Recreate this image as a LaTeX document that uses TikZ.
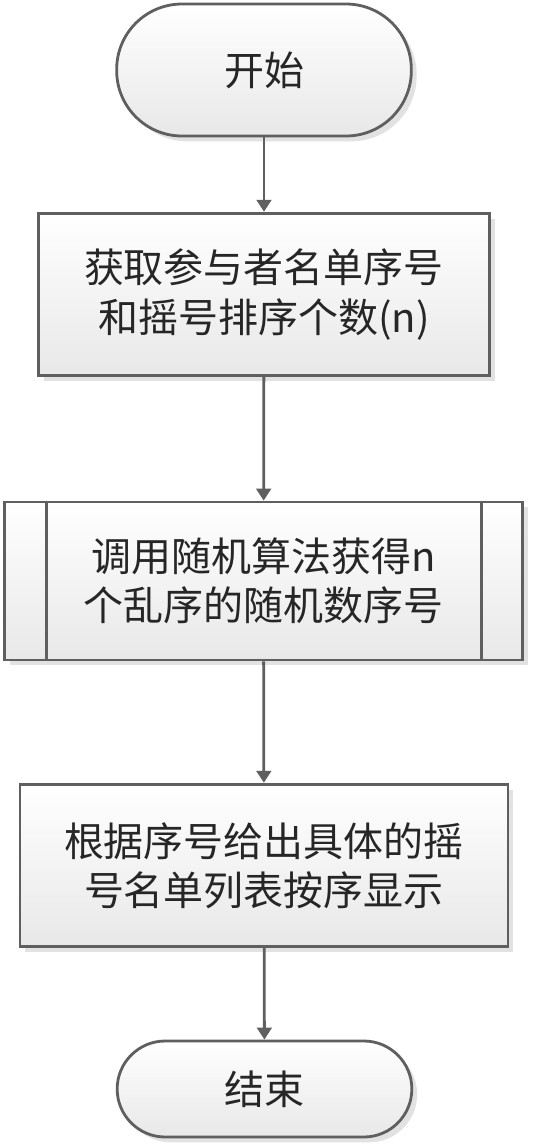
\documentclass[tikz,border=0pt]{standalone}
\usepackage{fontspec}
\newfontfamily\cjk{Noto Sans CJK SC}
\usetikzlibrary{arrows.meta,shadows}
\definecolor{linegray}{HTML}{5F5F5F}
\definecolor{shadowgray}{HTML}{E2E2E2}
\begin{document}
\begin{tikzpicture}[x=0.75pt,y=-0.75pt,
  base/.style={draw=linegray, line width=2.1pt, top color=white, bottom color=black!9,
    drop shadow={shadow xshift=4pt, shadow yshift=-4pt, fill=shadowgray, opacity=1},
    font=\cjk\fontsize{30pt}{37pt}\selectfont, text=black!85, align=center, inner sep=0pt},
  term/.style={base, rounded corners=#1},
  procbox/.style={base},
  sideline/.style={draw=linegray, line width=2.1pt},
  conn/.style={draw=linegray, line width=2.1pt, -{Triangle[width=11pt,length=9pt]}}]
\useasboundingbox[fill=white] (0,0) rectangle (534,1147);
\node[term=49pt, minimum width=221pt, minimum height=99pt] (start) at (264,70) {开始};
\node[procbox, minimum width=338pt, minimum height=122pt] (get) at (264,294.5) {获取参与者名单序号\\和摇号排序个数(n)};
\node[procbox, minimum width=389pt, minimum height=118.5pt] (rand) at (263.5,581) {调用随机算法获得n\\个乱序的随机数序号};
\draw[sideline] ([xshift=33pt]rand.north west) -- ([xshift=33pt]rand.south west);
\draw[sideline] ([xshift=-32pt]rand.north east) -- ([xshift=-32pt]rand.south east);
\node[procbox, minimum width=366pt, minimum height=122pt] (show) at (264,865.5) {根据序号给出具体的摇\\号名单列表按序显示};
\node[term=36pt, minimum width=221pt, minimum height=72pt] (end) at (264.5,1089) {结束};
\draw[conn] (start) -- (get);
\draw[conn] (get) -- (rand);
\draw[conn] (rand) -- (show);
\draw[conn] (show) -- (end);
\end{tikzpicture}
\end{document}
